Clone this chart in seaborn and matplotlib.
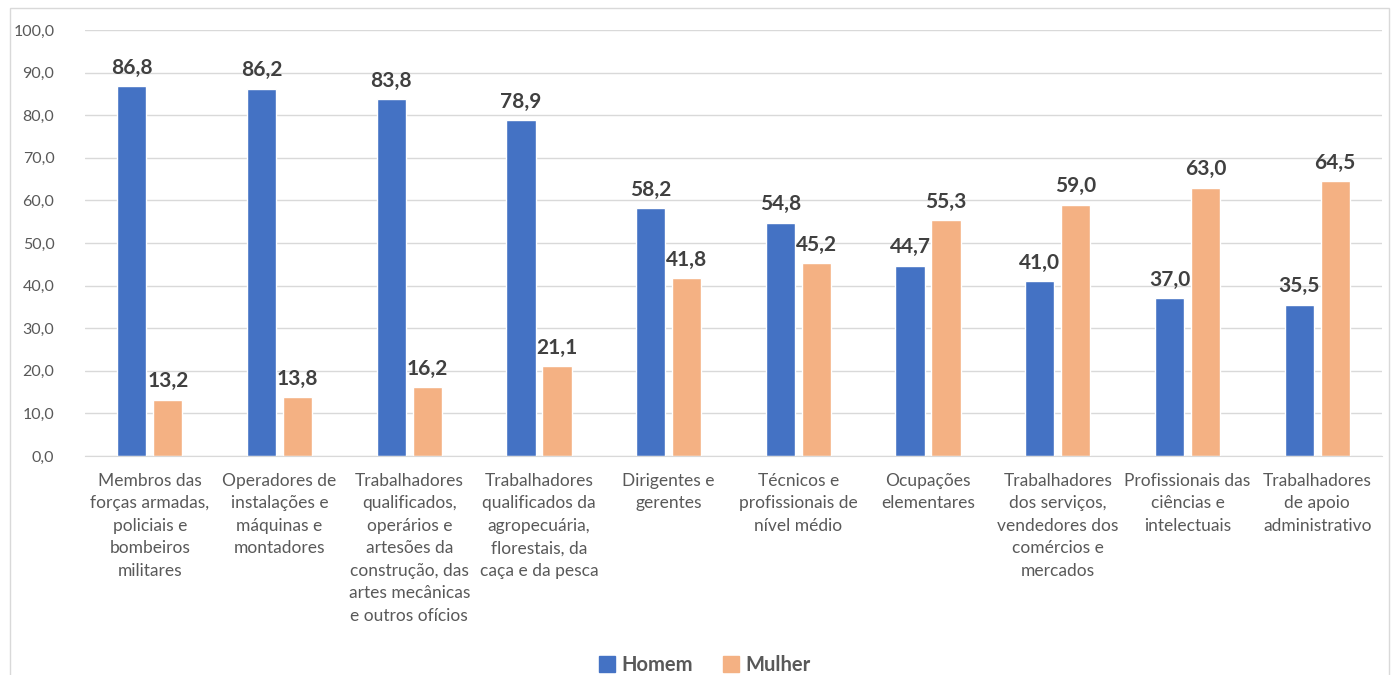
import matplotlib
matplotlib.use("Agg")
import matplotlib.pyplot as plt
import seaborn as sns
import pandas as pd
from matplotlib.patches import Rectangle

categories = [
    "Membros das\nforças armadas,\npoliciais e\nbombeiros\nmilitares",
    "Operadores de\ninstalações e\nmáquinas e\nmontadores",
    "Trabalhadores\nqualificados,\noperários e\nartesões da\nconstrução, das\nartes mecânicas\ne outros ofícios",
    "Trabalhadores\nqualificados da\nagropecuária,\nflorestais, da\ncaça e da pesca",
    "Dirigentes e\ngerentes",
    "Técnicos e\nprofissionais de\nnível médio",
    "Ocupações\nelementares",
    "Trabalhadores\ndos serviços,\nvendedores dos\ncomércios e\nmercados",
    "Profissionais das\nciências e\nintelectuais",
    "Trabalhadores\nde apoio\nadministrativo",
]
homem = [86.8, 86.2, 83.8, 78.9, 58.2, 54.8, 44.7, 41.0, 37.0, 35.5]
mulher = [13.2, 13.8, 16.2, 21.1, 41.8, 45.2, 55.3, 59.0, 63.0, 64.5]
series = ["Homem", "Mulher"]
colors = ["#4472C4", "#F4B183"]
yticks = [0, 10, 20, 30, 40, 50, 60, 70, 80, 90, 100]

df = pd.DataFrame({
    "cat": categories * 2,
    "valor": homem + mulher,
    "sexo": [series[0]] * len(categories) + [series[1]] * len(categories),
})

sns.set_style("white")
plt.rcParams["font.family"] = ["Lato", "DejaVu Sans"]

fig = plt.figure(figsize=(13.94, 6.75), dpi=100)
ax = fig.add_axes([85 / 1394, 1 - 456 / 675, (1382 - 85) / 1394, (456 - 30) / 675])

sns.barplot(data=df, x="cat", y="valor", hue="sexo", palette=colors,
            width=0.555, gap=0.19, ax=ax, legend=False, saturation=1)

for cont in ax.containers:
    ax.bar_label(cont, labels=[f"{b.get_height():.1f}".replace(".", ",") for b in cont],
                 padding=6, fontsize=15, fontweight="bold", color="#404040")

ax.set_ylim(0, 100)
ax.set_xlim(-0.5, len(categories) - 0.5)
ax.set_yticks(yticks)
ax.set_yticklabels([f"{v:.1f}".replace(".", ",") for v in yticks], color="#595959", fontsize=11.5)
ax.tick_params(axis="y", length=0, pad=22)
ax.tick_params(axis="x", length=0, pad=12)
for lab in ax.get_xticklabels():
    lab.set_fontsize(12.5)
    lab.set_color("#595959")
    lab.set_linespacing(1.5)
ax.set_xlabel("")
ax.set_ylabel("")
ax.yaxis.grid(True, color="#D9D9D9", linewidth=1)
ax.set_axisbelow(True)
for s in ["top", "right", "left"]:
    ax.spines[s].set_visible(False)
ax.spines["bottom"].set_color("#D9D9D9")

# chart frame
fig.patches.append(Rectangle((10 / 1394, -0.05), (1389 - 10) / 1394, 1.05 - 8 / 675,
                             transform=fig.transFigure, fill=False,
                             edgecolor="#D9D9D9", linewidth=1))

handles = [Rectangle((0, 0), 1, 1, color=c) for c in colors]
leg = fig.legend(handles, series, loc="center", bbox_to_anchor=(705 / 1394, 1 - 665 / 675),
                 ncol=2, frameon=False, handlelength=0.8, handleheight=0.8,
                 columnspacing=1.5, handletextpad=0.3,
                 prop={"size": 14.5, "weight": "bold"})
for t in leg.get_texts():
    t.set_color("#595959")

fig.savefig("out.png", dpi=100)
